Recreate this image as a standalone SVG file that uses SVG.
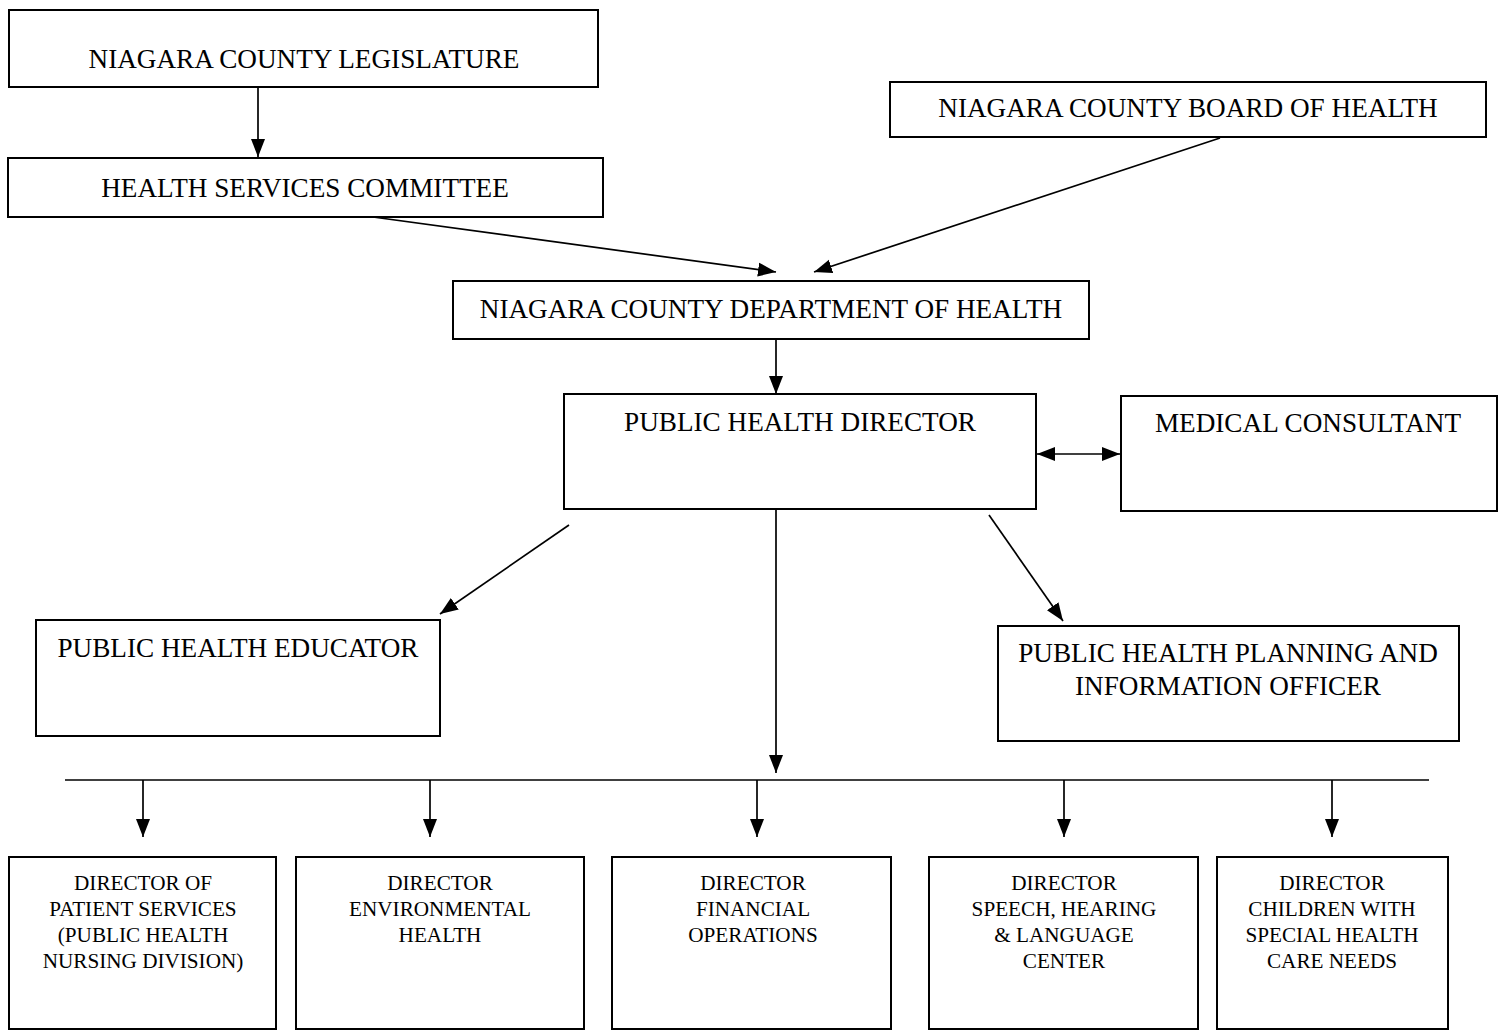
<svg xmlns="http://www.w3.org/2000/svg" width="1504" height="1031" viewBox="0 0 1504 1031">
<style>
.box{fill:#fff;stroke:#000;stroke-width:2}
.t{font-family:"Liberation Serif","Times New Roman",serif;font-size:27.2px;fill:#000;text-anchor:middle}
.s{font-family:"Liberation Serif","Times New Roman",serif;font-size:21.2px;fill:#000;text-anchor:middle}
.c{stroke:#000;stroke-width:1.7;fill:none}
</style>
<defs>
<marker id="ah" markerUnits="userSpaceOnUse" markerWidth="20" markerHeight="16" refX="18" refY="8" orient="auto-start-reverse">
<path d="M0,1 L18,8 L0,15 Z" fill="#000"/>
</marker>
</defs>
<rect width="1504" height="1031" fill="#fff"/>
<g id="connectors">
<line class="c" x1="258" y1="87" x2="258" y2="157" marker-end="url(#ah)"/>
<line class="c" x1="373" y1="217" x2="776" y2="272" marker-end="url(#ah)"/>
<line class="c" x1="1220" y1="138" x2="814" y2="272" marker-end="url(#ah)"/>
<line class="c" x1="776" y1="339" x2="776" y2="394" marker-end="url(#ah)"/>
<line class="c" x1="1037" y1="454" x2="1120" y2="454" marker-start="url(#ah)" marker-end="url(#ah)"/>
<line class="c" x1="569" y1="525" x2="440" y2="614" marker-end="url(#ah)"/>
<line class="c" x1="989" y1="515" x2="1063" y2="621" marker-end="url(#ah)"/>
<line class="c" x1="776" y1="505" x2="776" y2="773" marker-end="url(#ah)"/>
<line class="c" x1="65" y1="780" x2="1429" y2="780"/>
<line class="c" x1="143" y1="780" x2="143" y2="837" marker-end="url(#ah)"/>
<line class="c" x1="430" y1="780" x2="430" y2="837" marker-end="url(#ah)"/>
<line class="c" x1="757" y1="780" x2="757" y2="837" marker-end="url(#ah)"/>
<line class="c" x1="1064" y1="780" x2="1064" y2="837" marker-end="url(#ah)"/>
<line class="c" x1="1332" y1="780" x2="1332" y2="837" marker-end="url(#ah)"/>
</g>
<g id="legislature"><rect class="box" x="9" y="10" width="589" height="77"/><text class="t" x="304" y="68">NIAGARA COUNTY LEGISLATURE</text></g>
<g id="committee"><rect class="box" x="8" y="158" width="595" height="59"/><text class="t" x="305" y="197">HEALTH SERVICES COMMITTEE</text></g>
<g id="board"><rect class="box" x="890" y="82" width="596" height="55"/><text class="t" x="1188" y="117">NIAGARA COUNTY BOARD OF HEALTH</text></g>
<g id="department"><rect class="box" x="453" y="281" width="636" height="58"/><text class="t" x="771" y="318">NIAGARA COUNTY DEPARTMENT OF HEALTH</text></g>
<g id="director"><rect class="box" x="564" y="394" width="472" height="115"/><text class="t" x="800" y="431">PUBLIC HEALTH DIRECTOR</text></g>
<g id="medical"><rect class="box" x="1121" y="396" width="376" height="115"/><text class="t" x="1308" y="432">MEDICAL CONSULTANT</text></g>
<g id="educator"><rect class="box" x="36" y="620" width="404" height="116"/><text class="t" x="238" y="657">PUBLIC HEALTH EDUCATOR</text></g>
<g id="planning"><rect class="box" x="998" y="626" width="461" height="115"/><text class="t" x="1228" y="662">PUBLIC HEALTH PLANNING AND</text><text class="t" x="1228" y="695">INFORMATION OFFICER</text></g>
<g id="patient"><rect class="box" x="9" y="857" width="267" height="172"/><text class="s" x="143" y="890">DIRECTOR OF</text><text class="s" x="143" y="916">PATIENT SERVICES</text><text class="s" x="143" y="942">(PUBLIC HEALTH</text><text class="s" x="143" y="968">NURSING DIVISION)</text></g>
<g id="environmental"><rect class="box" x="296" y="857" width="288" height="172"/><text class="s" x="440" y="890">DIRECTOR</text><text class="s" x="440" y="916">ENVIRONMENTAL</text><text class="s" x="440" y="942">HEALTH</text></g>
<g id="financial"><rect class="box" x="612" y="857" width="279" height="172"/><text class="s" x="753" y="890">DIRECTOR</text><text class="s" x="753" y="916">FINANCIAL</text><text class="s" x="753" y="942">OPERATIONS</text></g>
<g id="speech"><rect class="box" x="929" y="857" width="269" height="172"/><text class="s" x="1064" y="890">DIRECTOR</text><text class="s" x="1064" y="916">SPEECH, HEARING</text><text class="s" x="1064" y="942">&amp; LANGUAGE</text><text class="s" x="1064" y="968">CENTER</text></g>
<g id="children"><rect class="box" x="1217" y="857" width="231" height="172"/><text class="s" x="1332" y="890">DIRECTOR</text><text class="s" x="1332" y="916">CHILDREN WITH</text><text class="s" x="1332" y="942">SPECIAL HEALTH</text><text class="s" x="1332" y="968">CARE NEEDS</text></g>
</svg>
